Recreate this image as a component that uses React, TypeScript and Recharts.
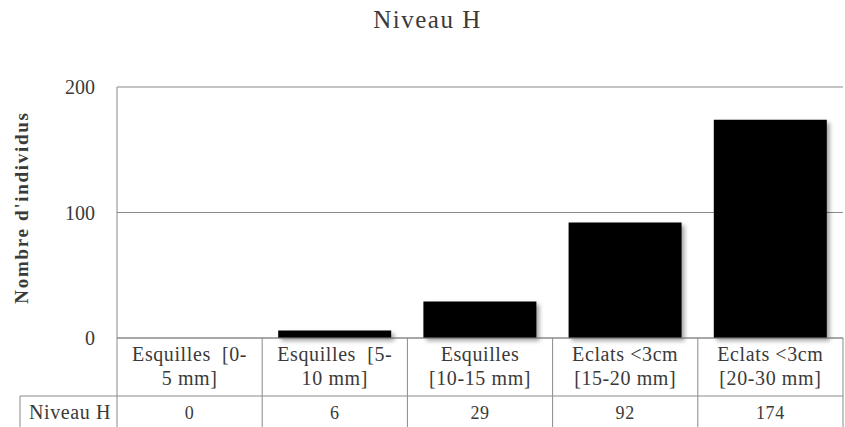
import { Bar, BarChart, CartesianGrid, Rectangle, XAxis, YAxis } from "recharts";

const CATEGORY_LINE1 = ["Esquilles  [0-", "Esquilles  [5-", "Esquilles", "Eclats <3cm", "Eclats <3cm"];
const CATEGORY_LINE2 = ["5 mm]", "10 mm]", "[10-15 mm]", "[15-20 mm]", "[20-30 mm]"];
const VALUES = [0, 6, 29, 92, 174];
const SERIES_NAME = "Niveau H";
const Y_TICKS = [0, 100, 200];

const W = 845;
const H = 427;
const LEFT = 117;
const RIGHT_MARGIN = 2;
const BAND = (W - LEFT - RIGHT_MARGIN) / CATEGORY_LINE1.length;
const FONT = "'Liberation Serif', 'DejaVu Serif', serif";
const TEXT = "#3a3a3a";
const LINE = "#8a8a8a";
const cellText = { fontFamily: FONT, fontSize: 20, letterSpacing: 0.6, whiteSpace: "pre" as const };

const data = CATEGORY_LINE1.map((c, i) => ({
  cat: `${c} ${CATEGORY_LINE2[i]}`,
  l1: c,
  l2: CATEGORY_LINE2[i],
  value: VALUES[i],
}));

// table under the plot, one column per x tick
function TableTick(props: any) {
  const { x, y, index } = props;
  const d = data[index];
  const left = x - BAND / 2;
  const right = x + BAND / 2;
  const top = y - 8;
  const rowY = top + 58;
  return (
    <g>
      {index === 0 && (
        <>
          <line x1={left} y1={top} x2={left} y2={H} stroke={LINE} />
          <line x1={20} y1={rowY} x2={left} y2={rowY} stroke={LINE} />
          <line x1={20} y1={rowY} x2={20} y2={H} stroke={LINE} />
          <text x={left - 6} y={rowY + 23} textAnchor="end" fill={TEXT} style={cellText}>
            {SERIES_NAME}
          </text>
        </>
      )}
      <line x1={right} y1={top} x2={right} y2={H} stroke={LINE} />
      <line x1={left} y1={rowY} x2={right} y2={rowY} stroke={LINE} />
      <text x={x} y={top + 23} textAnchor="middle" fill={TEXT} style={cellText}>
        {d.l1}
      </text>
      <text x={x} y={top + 47} textAnchor="middle" fill={TEXT} style={cellText}>
        {d.l2}
      </text>
      <text x={x} y={rowY + 23} textAnchor="middle" fill={TEXT} style={{ ...cellText, fontSize: 18 }}>
        {d.value}
      </text>
    </g>
  );
}

function ShadowBar(props: any) {
  return (
    <Rectangle
      {...props}
      fill="#000"
      style={{ filter: "drop-shadow(3px 3px 2px rgba(0,0,0,0.35))" }}
    />
  );
}

export default function App() {
  return (
    <div style={{ position: "absolute", left: 0, top: 0, width: W, height: H, background: "#fff" }}>
      <div
        style={{
          position: "absolute",
          top: 6,
          left: 0,
          width: 855,
          textAlign: "center",
          fontFamily: FONT,
          fontSize: 25,
          letterSpacing: 1.5,
          color: TEXT,
        }}
      >
        Niveau H
      </div>
      <BarChart
        width={W}
        height={H}
        data={data}
        margin={{ top: 87, right: RIGHT_MARGIN, left: 0, bottom: 0 }}
        barCategoryGap={16}
      >
        <CartesianGrid vertical={false} stroke={LINE} />
        <YAxis
          width={LEFT}
          domain={[0, 200]}
          ticks={Y_TICKS}
          tickLine={false}
          axisLine={{ stroke: LINE }}
          tick={{ fill: TEXT, fontSize: 20, dx: -14, style: { fontFamily: FONT } }}
          label={{
            value: "Nombre d'individus",
            angle: -90,
            position: "center",
            dx: -37,
            dy: -5,
            style: { fill: TEXT, fontSize: 19, fontWeight: "bold", letterSpacing: 1.7, fontFamily: FONT },
          }}
        />
        <XAxis
          dataKey="cat"
          height={H - 338}
          interval={0}
          tickLine={false}
          axisLine={{ stroke: LINE }}
          tick={<TableTick />}
        />
        <Bar dataKey="value" isAnimationActive={false} shape={<ShadowBar />} />
      </BarChart>
    </div>
  );
}
